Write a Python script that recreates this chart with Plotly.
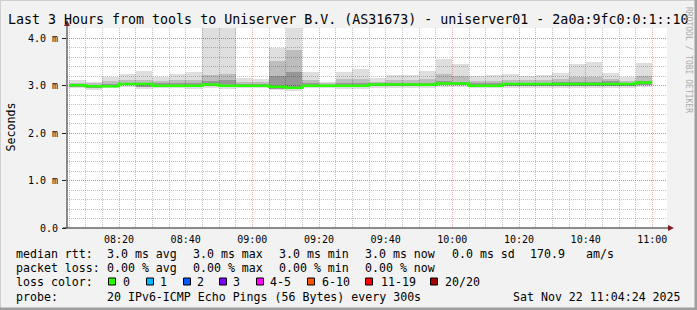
import plotly.graph_objects as go

# ---------------- data ----------------
day = "2025-11-22 "
bin_start = ["08:05", "08:10", "08:15", "08:20", "08:25", "08:30", "08:35", "08:40", "08:45",
             "08:50", "08:55", "09:00", "09:05", "09:10", "09:15", "09:20", "09:25", "09:30",
             "09:35", "09:40", "09:45", "09:50", "09:55", "10:00", "10:05", "10:10", "10:15",
             "10:20", "10:25", "10:30", "10:35", "10:40", "10:45", "10:50", "10:55"]
bin_end_last = "11:00"

rtt_max = [3.12, 3.09, 3.19, 3.24, 3.31, 3.19, 3.24, 3.29, 4.25, 4.25, 3.16, 3.14, 3.80, 4.25,
           3.30, 3.09, 3.29, 3.36, 3.16, 3.23, 3.22, 3.31, 3.57, 3.46, 3.21, 3.23, 3.26, 3.21,
           3.23, 3.28, 3.46, 3.50, 3.28, 3.19, 3.49]
rtt_p90 = [3.07, 3.05, 3.10, 3.12, 3.13, 3.10, 3.12, 3.12, 3.22, 3.26, 3.08, 3.08, 3.52, 3.75,
           3.12, 3.05, 3.14, 3.14, 3.09, 3.12, 3.12, 3.14, 3.25, 3.20, 3.10, 3.10, 3.12, 3.12,
           3.12, 3.14, 3.18, 3.18, 3.15, 3.10, 3.20]
rtt_p75 = [3.04, 3.02, 3.04, 3.07, 3.07, 3.05, 3.06, 3.05, 3.10, 3.12, 3.03, 3.03, 3.20, 3.30,
           3.05, 3.02, 3.06, 3.06, 3.06, 3.07, 3.07, 3.07, 3.10, 3.09, 3.05, 3.05, 3.07, 3.07,
           3.07, 3.08, 3.09, 3.09, 3.10, 3.06, 3.10]
rtt_median = [3.01, 2.99, 2.99, 3.04, 3.04, 3.00, 3.00, 3.00, 3.03, 3.00, 3.00, 3.00, 2.98, 2.96,
              3.00, 3.00, 3.00, 3.00, 3.03, 3.03, 3.03, 3.02, 3.05, 3.05, 3.00, 3.00, 3.04, 3.04,
              3.04, 3.04, 3.04, 3.04, 3.04, 3.04, 3.07]
rtt_p25 = [2.98, 2.96, 2.97, 3.01, 2.98, 2.97, 2.97, 2.97, 2.99, 2.97, 2.97, 2.97, 2.94, 2.93,
           2.97, 2.97, 2.97, 2.97, 2.99, 2.99, 2.99, 2.99, 3.01, 3.01, 2.97, 2.97, 3.00, 3.00,
           3.00, 3.00, 3.00, 3.00, 3.00, 3.00, 3.02]
rtt_min = [2.96, 2.92, 2.95, 2.97, 2.94, 2.95, 2.95, 2.94, 2.95, 2.94, 2.95, 2.95, 2.92, 2.90,
           2.95, 2.95, 2.94, 2.94, 2.96, 2.95, 2.95, 2.95, 2.97, 2.97, 2.95, 2.95, 2.96, 2.96,
           2.96, 2.96, 2.96, 2.96, 2.96, 2.96, 2.97]

y_tick_vals = [0, 1, 2, 3, 4]
y_tick_labels = ["0.0", "1.0 m", "2.0 m", "3.0 m", "4.0 m"]

title_text = "Last 3 Hours from tools to Uniserver B.V. (AS31673) - uniserver01 - 2a0a:9fc0:0:1::10"
loss_labels = ["0", "1", "2", "3", "4-5", "6-10", "11-19", "20/20"]
loss_colors = ["#26ff00", "#00b8ff", "#0059ff", "#7e00ff", "#ff00ff", "#ff5500", "#ff0000", "#a00000"]

# ---------------- helpers (pixel -> paper) ----------------
L, R, T, B = 67, 30, 28, 82
W, H = 697, 310
PW, PH = W - L - R, H - T - B


def X(px):
    return (px - L) / PW


def Y(py):
    return (H - B - py) / PH


FONT = "DejaVu Sans Mono"
xs = [day + t for t in bin_start]
edges = xs + [day + bin_end_last]
BW = 300000  # 5 minutes in ms

fig = go.Figure()


def smoke(lo, hi, color):
    fig.add_trace(go.Bar(
        x=xs, y=[h - l for h, l in zip(hi, lo)], base=lo, width=BW, offset=0,
        marker=dict(color=color, line=dict(width=0)), hoverinfo="skip", showlegend=False))


smoke(rtt_min, rtt_max, "rgba(0,0,0,0.13)")
smoke(rtt_p25, rtt_p90, "rgba(0,0,0,0.15)")
smoke(rtt_p25, rtt_p75, "rgba(0,0,0,0.2)")

fig.add_trace(go.Scatter(
    x=edges, y=rtt_median + [rtt_median[-1]], mode="lines",
    line=dict(color=loss_colors[0], width=2.5, shape="hv"),
    hoverinfo="skip", showlegend=False))

grid_minor = "rgba(143,143,143,0.55)"
grid_major = "rgba(230,70,70,0.45)"

fig.update_layout(
    width=W, height=H,
    margin=dict(l=L, r=R, t=T, b=B, pad=0),
    paper_bgcolor="#f2f2f2", plot_bgcolor="#ffffff",
    barmode="overlay", bargap=0, showlegend=False,
    font=dict(family=FONT, color="#000000"),
    xaxis=dict(
        type="date", range=[day + "08:04:24", day + "11:04:24"],
        tickmode="linear", tick0=day + "08:00", dtick=1200000, tickformat="%H:%M",
        showgrid=True, gridcolor=grid_major, griddash="1px,1px", gridwidth=1,
        minor=dict(tickmode="linear", tick0=day + "08:00", dtick=BW, showgrid=True,
                   gridcolor=grid_minor, griddash="1px,1px", gridwidth=1),
        showline=False, zeroline=False, ticks="", ticklabelstandoff=4,
        tickfont=dict(family=FONT, size=10, color="#000000"), fixedrange=True),
    yaxis=dict(
        range=[0, 4.22], tickmode="array", tickvals=y_tick_vals, ticktext=y_tick_labels,
        ticks="outside", ticklen=4, tickcolor="#1f1f1f", tickwidth=1,
        showgrid=True, gridcolor=grid_major, griddash="1px,1px", gridwidth=1,
        minor=dict(tickmode="linear", tick0=0, dtick=0.2, showgrid=True,
                   gridcolor=grid_minor, griddash="1px,1px", gridwidth=1),
        showline=False, zeroline=False, ticklabelstandoff=2,
        tickfont=dict(family=FONT, size=10, color="#000000"), fixedrange=True),
)

shapes = []
# image frame
shapes.append(dict(type="line", xref="paper", yref="paper", x0=X(0), x1=X(697), y0=Y(0.5), y1=Y(0.5),
                   line=dict(color="#cfcfcf", width=1)))
shapes.append(dict(type="line", xref="paper", yref="paper", x0=X(0.5), x1=X(0.5), y0=Y(0), y1=Y(310),
                   line=dict(color="#cfcfcf", width=1)))
shapes.append(dict(type="rect", xref="paper", yref="paper", x0=X(0), x1=X(697), y0=Y(310), y1=Y(307.5),
                   line=dict(width=0), fillcolor="#9e9e9e"))
shapes.append(dict(type="rect", xref="paper", yref="paper", x0=X(694.5), x1=X(697), y0=Y(310), y1=Y(0),
                   line=dict(width=0), fillcolor="#9e9e9e"))
# axes
shapes.append(dict(type="line", xref="paper", yref="paper", x0=X(67), x1=X(67), y0=Y(228), y1=Y(22),
                   line=dict(color="#1f1f1f", width=1)))
shapes.append(dict(type="line", xref="paper", yref="paper", x0=X(63), x1=X(669), y0=Y(228), y1=Y(228),
                   line=dict(color="#1f1f1f", width=1)))
shapes.append(dict(type="path", xref="paper", yref="paper",
                   path=f"M {X(64)},{Y(26)} L {X(67)},{Y(20)} L {X(70)},{Y(26)} Z",
                   fillcolor="#801f1f", line=dict(width=0)))
shapes.append(dict(type="path", xref="paper", yref="paper",
                   path=f"M {X(668)},{Y(225)} L {X(674)},{Y(228)} L {X(668)},{Y(231)} Z",
                   fillcolor="#801f1f", line=dict(width=0)))

annotations = []


def txt(s, px, py, size=11.6, anchor="left", color="#000000", angle=0):
    annotations.append(dict(text=s, x=X(px), y=Y(py), xref="paper", yref="paper",
                            xanchor=anchor, yanchor="middle", showarrow=False,
                            borderpad=0, borderwidth=0, textangle=angle,
                            font=dict(family=FONT, size=size, color=color)))


txt(title_text, 8, 19, size=13.3)
txt("Seconds", 10, 127.5, angle=-90, anchor="center")
txt("RRDTOOL / TOBI OETIKER", 689, 60, size=8, anchor="center", color="#aaaaaa", angle=90)

row1 = [("median rtt:", 16), ("3.0 ms avg", 107), ("3.0 ms max", 193), ("3.0 ms min", 279),
        ("3.0 ms now", 365), ("0.0 ms sd", 452), ("170.9", 530), ("am/s", 586)]
row2 = [("packet loss:", 16), ("0.00 % avg", 107), ("0.00 % max", 193), ("0.00 % min", 279),
        ("0.00 % now", 365)]
row4 = [("probe:", 16), ("20 IPv6-ICMP Echo Pings (56 Bytes) every 300s", 107),
        ("Sat Nov 22 11:04:24 2025", 513)]
for s, px in row1:
    txt(s, px, 254)
for s, px in row2:
    txt(s, px, 268)
for s, px in row4:
    txt(s, px, 296.5)

txt("loss color:", 16, 282)
box_x = [108, 146, 183, 219, 256, 307, 365, 430]
lab_x = [123, 160, 197, 233, 270, 322, 381, 445]
for lbl, col, bx, lx in zip(loss_labels, loss_colors, box_x, lab_x):
    shapes.append(dict(type="rect", xref="paper", yref="paper",
                       x0=X(bx + 0.5), x1=X(bx + 7.5), y0=Y(285), y1=Y(278),
                       fillcolor=col, line=dict(color="#000000", width=1)))
    txt(lbl, lx, 282)

fig.update_layout(shapes=shapes, annotations=annotations)
fig.write_html("out.html")
